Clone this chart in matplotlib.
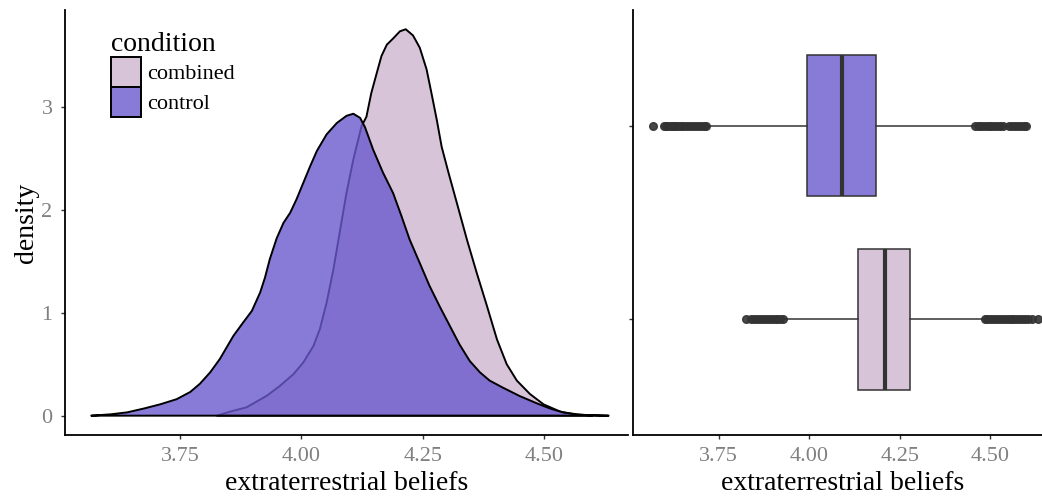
import matplotlib.pyplot as plt
from matplotlib.patches import Patch
from matplotlib.colors import to_rgba

# density curves
ctrl_x = [3.567, 3.607, 3.641, 3.676, 3.709, 3.743, 3.771, 3.791, 3.812, 3.832, 3.860, 3.880,
          3.898, 3.915, 3.925, 3.935, 3.949, 3.963, 3.977, 3.990, 4.004, 4.018, 4.032, 4.052,
          4.073, 4.093, 4.107, 4.121, 4.131, 4.148, 4.168, 4.189, 4.206, 4.223, 4.244, 4.264,
          4.285, 4.306, 4.326, 4.347, 4.368, 4.388, 4.416, 4.450, 4.485, 4.512, 4.540, 4.574,
          4.600]
ctrl_d = [0.0, 0.013, 0.032, 0.07, 0.11, 0.16, 0.23, 0.31, 0.42, 0.55, 0.775, 0.904,
          1.017, 1.195, 1.34, 1.52, 1.72, 1.87, 1.97, 2.10, 2.26, 2.42, 2.57, 2.73,
          2.84, 2.91, 2.93, 2.89, 2.80, 2.58, 2.36, 2.16, 1.94, 1.71, 1.48, 1.26,
          1.06, 0.87, 0.69, 0.53, 0.42, 0.34, 0.27, 0.19, 0.12, 0.07, 0.03, 0.01,
          0.0]

comb_x = [3.826, 3.853, 3.887, 3.929, 3.956, 3.984, 4.004, 4.025, 4.038, 4.052, 4.066, 4.080,
          4.093, 4.107, 4.124, 4.134, 4.144, 4.155, 4.165, 4.176, 4.189, 4.203, 4.215, 4.230,
          4.244, 4.258, 4.268, 4.279, 4.289, 4.303, 4.320, 4.341, 4.361, 4.382, 4.403, 4.423,
          4.444, 4.471, 4.499, 4.533, 4.567, 4.633]
comb_d = [0.0, 0.039, 0.081, 0.194, 0.29, 0.404, 0.517, 0.678, 0.839, 1.097, 1.42, 1.807,
          2.163, 2.485, 2.81, 2.90, 3.13, 3.32, 3.49, 3.60, 3.66, 3.73, 3.75, 3.69,
          3.57, 3.36, 3.13, 2.87, 2.61, 2.36, 2.07, 1.71, 1.39, 1.07, 0.74, 0.50,
          0.34, 0.21, 0.11, 0.04, 0.01, 0.0]

# boxplot summaries
conditions = ['combined', 'control']
q1 = [4.134, 3.993]
med = [4.209, 4.090]
q3 = [4.278, 4.184]
whislo = [3.930, 3.720]
whishi = [4.482, 4.457]
fliers = [
    [3.826, 3.84, 3.848, 3.856, 3.864, 3.872, 3.88, 3.888, 3.896, 3.904, 3.912, 3.92, 3.927,
     4.484, 4.492, 4.50, 4.508, 4.516, 4.524, 4.532, 4.54, 4.548, 4.556, 4.564, 4.572,
     4.58, 4.588, 4.596, 4.604, 4.615, 4.633],
    [3.568, 3.598, 3.603, 3.608, 3.614, 3.62, 3.626, 3.632, 3.638, 3.645, 3.652, 3.66,
     3.668, 3.676, 3.684, 3.692, 3.70, 3.708, 3.715,
     4.458, 4.465, 4.472, 4.48, 4.488, 4.495, 4.503, 4.51, 4.518, 4.526, 4.534,
     4.552, 4.56, 4.568, 4.576, 4.584, 4.592, 4.598],
]

comb_col = '#d8c4d9'
ctrl_col = to_rgba('#6a5acd', 0.8)
box_cols = [comb_col, '#887bd7']

plt.rcParams['font.family'] = ['Liberation Serif', 'DejaVu Serif']

fig = plt.figure(figsize=(10.42, 4.96), dpi=100)
ax1 = fig.add_axes([0.0624, 0.123, 0.5403, 0.857])
ax2 = fig.add_axes([0.6075, 0.123, 0.403, 0.857])

# left: densities
ax1.fill(comb_x, comb_d, facecolor=comb_col, edgecolor='black', lw=1.4, joinstyle='round')
ax1.fill(ctrl_x, ctrl_d, facecolor=ctrl_col, edgecolor='black', lw=1.4, joinstyle='round')
ax1.set_xlim(3.513, 4.673)
ax1.set_ylim(-0.1875, 3.9375)
ax1.set_xticks([3.75, 4.00, 4.25, 4.50])
ax1.set_xticklabels(['3.75', '4.00', '4.25', '4.50'])
ax1.set_yticks([0, 1, 2, 3])
ax1.set_xlabel('extraterrestrial beliefs', fontsize=20, labelpad=3)
ax1.set_ylabel('density', fontsize=20, labelpad=2)

handles = [Patch(facecolor=comb_col, edgecolor='black', lw=1.4),
           Patch(facecolor=ctrl_col, edgecolor='black', lw=1.4)]
leg = ax1.legend(handles, conditions, title='condition', loc='upper left',
                 bbox_to_anchor=(0.062, 0.975), frameon=False, fontsize=16,
                 title_fontsize=20, handlelength=1.36, handleheight=1.7,
                 labelspacing=0.0, handletextpad=0.25, borderpad=0, alignment='left')

# right: boxplots
stats = []
for i in range(len(conditions)):
    stats.append(dict(label=conditions[i], q1=q1[i], med=med[i], q3=q3[i],
                      whislo=whislo[i], whishi=whishi[i], fliers=fliers[i]))
bp = ax2.bxp(stats, positions=[1, 2], widths=0.73, orientation='horizontal',
             patch_artist=True, showcaps=False,
             boxprops=dict(edgecolor='#333333', lw=1.1),
             medianprops=dict(color='#333333', lw=3),
             whiskerprops=dict(color='#333333', lw=1.1),
             flierprops=dict(marker='o', markerfacecolor='#333333',
                             markeredgecolor='#333333', markersize=5.5, alpha=0.9))
for patch, c in zip(bp['boxes'], box_cols):
    patch.set_facecolor(c)
ax2.set_xlim(3.513, 4.673)
ax2.set_ylim(0.4, 2.6)
ax2.set_xticks([3.75, 4.00, 4.25, 4.50])
ax2.set_xticklabels(['3.75', '4.00', '4.25', '4.50'])
ax2.set_yticks([1, 2])
ax2.set_yticklabels(['', ''])
ax2.set_xlabel('extraterrestrial beliefs', fontsize=20, labelpad=3)

for ax in (ax1, ax2):
    ax.spines['top'].set_visible(False)
    ax.spines['right'].set_visible(False)
    for s in ('left', 'bottom'):
        ax.spines[s].set_linewidth(1.3)
    ax.tick_params(length=3, width=1, color='#333333', labelcolor='#808080',
                   labelsize=16, pad=6)

fig.savefig('out.png', dpi=100)
